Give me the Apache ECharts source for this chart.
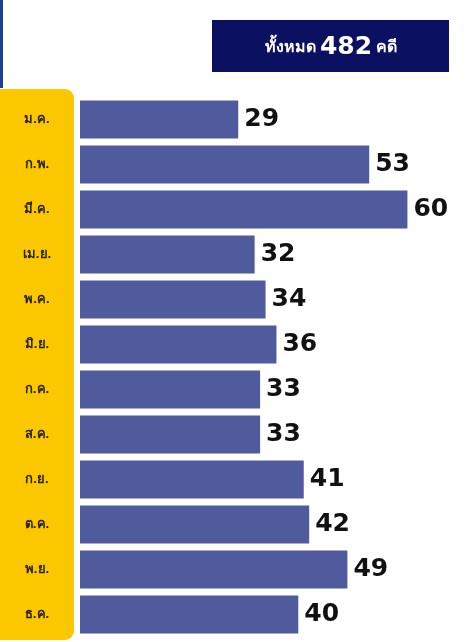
<!DOCTYPE html>
<html lang="th">
<head>
  <meta charset="utf-8">
  <title>คดี รายเดือน</title>
  <script src="https://cdn.jsdelivr.net/npm/echarts@6/dist/echarts.min.js"></script>
  <style>
    html, body { margin: 0; padding: 0; background: #fff; }
    #main { width: 474px; height: 642px; }
  </style>
</head>
<body>
  <div id="main"></div>
  <script type="text/javascript">
    // เดือน
    var months = ['ม.ค.', 'ก.พ.', 'มี.ค.', 'เม.ย.', 'พ.ค.', 'มิ.ย.', 'ก.ค.', 'ส.ค.', 'ก.ย.', 'ต.ค.', 'พ.ย.', 'ธ.ค.'];
    // จำนวนคดี
    var cases = [29, 53, 60, 32, 34, 36, 33, 33, 41, 42, 49, 40];
    var total = 482;

    var chart = echarts.init(document.getElementById('main'));

    var option = {
      backgroundColor: '#ffffff',
      animation: false,
      graphic: [
        // แถบเหลืองด้านซ้าย
        { type: 'rect', z: 0, shape: { x: -12, y: 89, width: 86, height: 551, r: 9 }, style: { fill: '#fbc800' } },
        // เส้นน้ำเงินด้านซ้ายบน
        { type: 'rect', z: 0, shape: { x: 0, y: 0, width: 3, height: 88 }, style: { fill: '#1c3f94' } },
        // กล่องหัวเรื่อง
        { type: 'rect', z: 0, shape: { x: 212, y: 20, width: 237, height: 52 }, style: { fill: '#0b1160' } },
        {
          type: 'text', z: 1, x: 331, y: 47,
          style: {
            text: '{a|ทั้งหมด }{b|' + total + '}{a| คดี}',
            align: 'center', verticalAlign: 'middle',
            rich: {
              a: { fill: '#ffffff', fontSize: 16, fontWeight: 'bold', fontFamily: 'Noto Sans, sans-serif' },
              b: { fill: '#ffffff', fontSize: 25, fontWeight: 'bold', fontFamily: 'DejaVu Sans, sans-serif' }
            }
          }
        }
      ],
      grid: { left: 80, top: 97, right: 12, height: 540 },
      xAxis: {
        type: 'value', min: 0, max: 70,
        show: false
      },
      yAxis: {
        type: 'category',
        inverse: true,
        data: months,
        axisLine: { show: false },
        axisTick: { show: false },
        axisLabel: {
          margin: 43, align: 'center',
          color: '#2b2200', fontSize: 13, fontWeight: 'bold',
          fontFamily: 'Noto Sans, sans-serif'
        }
      },
      series: [{
        type: 'bar',
        data: cases,
        barCategoryGap: '16%',
        itemStyle: { color: '#4f5b9d' },
        label: {
          show: true, position: 'right', distance: 6,
          color: '#111111', fontSize: 25, fontWeight: 'bold',
          fontFamily: 'DejaVu Sans, sans-serif'
        }
      }]
    };

    chart.setOption(option);
  </script>
</body>
</html>
